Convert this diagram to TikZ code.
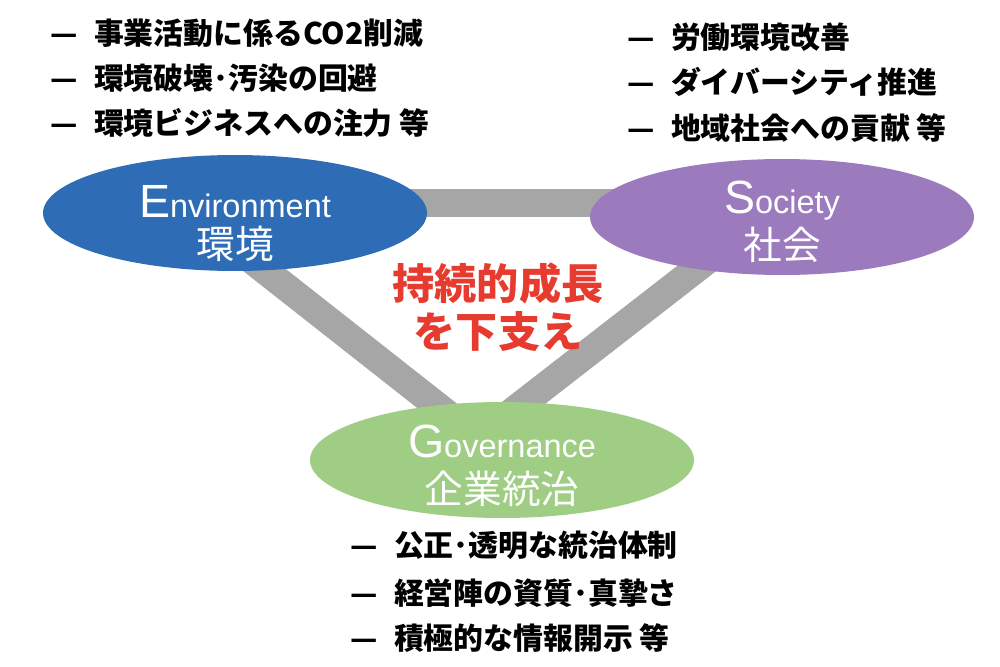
\documentclass[tikz,border=0pt]{standalone}
\usepackage{fontspec}
\setmainfont{Liberation Sans}
\newfontfamily\jpfont{Noto Sans CJK JP}
\usetikzlibrary{shapes.geometric,backgrounds,calc}

\definecolor{envblue}{HTML}{2E6DB5}
\definecolor{socpurple}{HTML}{9B7BBD}
\definecolor{govgreen}{HTML}{9FCD84}
\definecolor{bargray}{HTML}{A6A6A6}
\definecolor{slogred}{HTML}{E63B2E}

\tikzset{
	pillar/.style={ellipse, minimum width=7.68cm, minimum height=2.32cm, inner sep=0pt},
	head/.style={anchor=base, inner sep=0pt, text=white, font=\fontsize{18.5}{20}\selectfont},
	sub/.style={anchor=base, inner sep=0pt, text=white, font=\jpfont\fontsize{22}{24}\selectfont},
	item/.style={anchor=west, inner sep=0pt, font=\jpfont\bfseries\fontsize{17}{19}\selectfont},
	slogan/.style={align=center, inner sep=0pt, text=slogred, font=\jpfont\bfseries\fontsize{24}{27}\selectfont},
	bar/.style={bargray, line width=0.56cm},
}
\newcommand{\initial}[1]{{\fontsize{26.5}{28}\selectfont #1}}

\begin{document}
\begin{tikzpicture}[x=0.02cm, y=-0.02cm]
	\useasboundingbox (0,0) rectangle (1000,666);
	% the three pillars
	\node[pillar, fill=envblue] (env) at (235,213) {};
	\node[pillar, fill=socpurple] (soc) at (782,217) {};
	\node[pillar, fill=govgreen] (gov) at (502,460) {};
	\begin{scope}[on background layer]
		\draw[bar] ($(env.center)+(0,-10)$) -- ($(soc.center)+(0,-14)$);
		\draw[bar] ($(env.center)+(-43,0)$) -- ($(gov.center)+(4,0)$);
		\draw[bar] ($(soc.center)+(-19,0)$) -- ($(gov.center)+(-52,0)$);
	\end{scope}
	\node[head] (envhead) at (235,217) {\initial{E}nvironment};
	\node[sub] (envsub) at (235,258) {環境};
	\node[head] (sochead) at (782,213) {\initial{S}ociety};
	\node[sub] (socsub) at (782,259) {社会};
	\node[head] (govhead) at (502,457) {\initial{G}overnance};
	\node[sub] (govsub) at (502,503) {企業統治};
	\node[slogan] (growth) at (498,307) {持続的成長\\を下支え};
	% lists
	\foreach \y/\t [count=\i] in {33/事業活動に係るCO2削減, 78/環境破壊･汚染の回避, 123/環境ビジネスへの注力 等}
		\node[item] (envitem\i) at (50,\y) {—\hspace{.55em}\t};
	\foreach \y/\t [count=\i] in {37/労働環境改善, 82/ダイバーシティ推進, 128/地域社会への貢献 等}
		\node[item] (socitem\i) at (627,\y) {—\hspace{.55em}\t};
	\foreach \y/\t [count=\i] in {545/公正･透明な統治体制, 593/経営陣の資質･真摯さ, 638/積極的な情報開示 等}
		\node[item] (govitem\i) at (350,\y) {—\hspace{.55em}\t};
\end{tikzpicture}
\end{document}
